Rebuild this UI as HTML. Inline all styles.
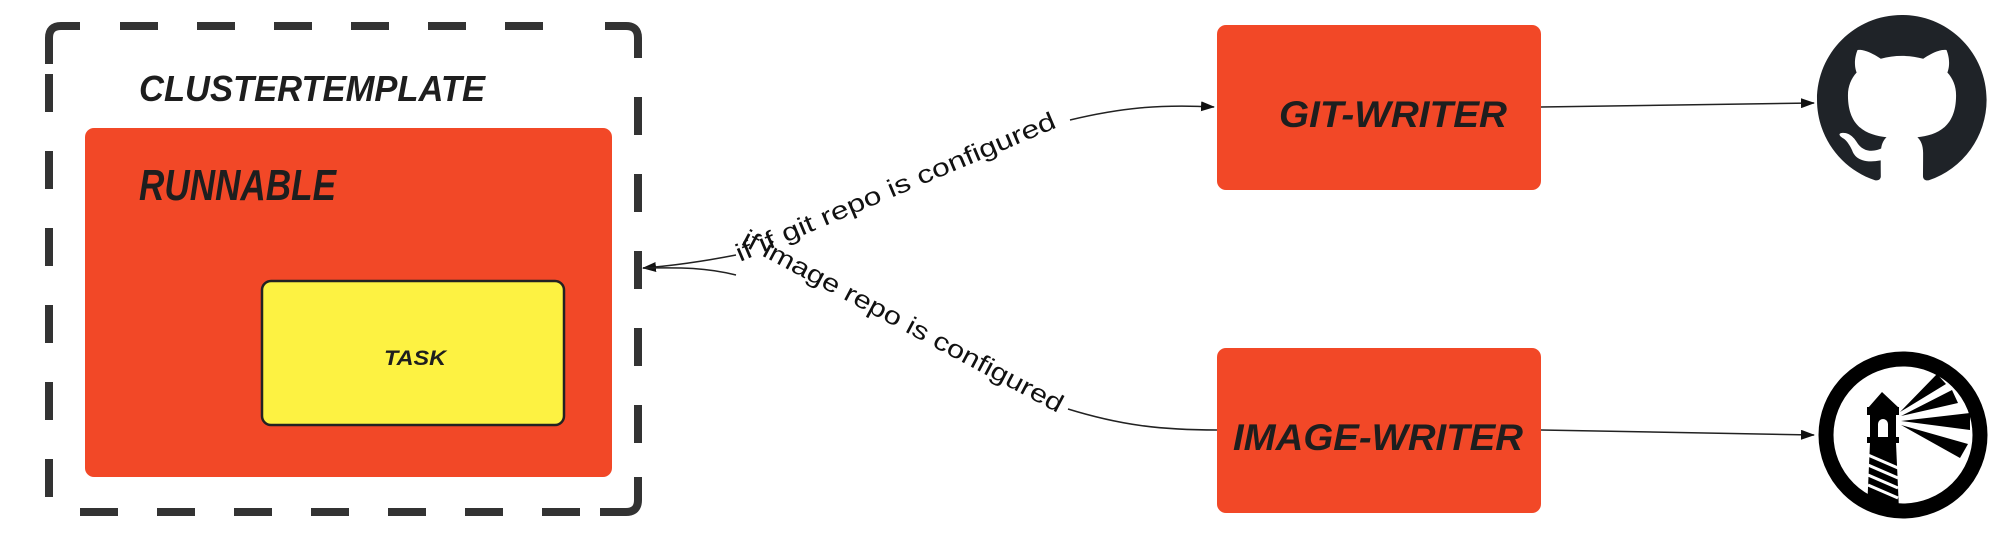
<!DOCTYPE html>
<html><head><meta charset="utf-8"><style>
html,body{margin:0;padding:0;background:#fff;width:1999px;height:541px;overflow:hidden}
svg{display:block}
.hand{font-family:"Liberation Sans",sans-serif;font-weight:bold;font-style:italic;fill:#1e1e1e}
.lbl{font-family:"Liberation Sans",sans-serif;font-size:25px;fill:#111}
</style></head><body>
<svg width="1999" height="541" viewBox="0 0 1999 541" xmlns="http://www.w3.org/2000/svg">
<defs>
<marker id="ah" markerWidth="14" markerHeight="10" refX="13" refY="5" orient="auto" markerUnits="userSpaceOnUse">
<path d="M0,0 L14,5 L0,10 z" fill="#111"/></marker>
</defs>
<!-- dashed container -->
<path d="M49,64 L49,38 Q49,26 61,26 L80,26" fill="none" stroke="#333" stroke-width="8"/>
<path d="M605,26 L626,26 Q638,26 638,38 L638,58" fill="none" stroke="#333" stroke-width="8"/>
<path d="M638,477 L638,500 Q638,512 626,512 L600,512" fill="none" stroke="#333" stroke-width="8"/>
<g stroke="#333" stroke-width="8">
<path d="M120,26 h38 M197,26 h38 M274,26 h38 M351,26 h38 M428,26 h38 M505,26 h38"/>
<path d="M80,512 h38 M157,512 h38 M234,512 h38 M311,512 h38 M388,512 h38 M465,512 h38 M542,512 h38"/>
<path d="M49,74 v38 M49,151 v38 M49,228 v38 M49,305 v38 M49,382 v38 M49,459 v38"/>
<path d="M638,97 v38 M638,174 v38 M638,251 v38 M638,328 v38 M638,405 v38"/>
</g>
<text class="hand" x="139" y="101" font-size="36" textLength="346" lengthAdjust="spacingAndGlyphs">CLUSTERTEMPLATE</text>
<!-- runnable -->
<rect x="85" y="128" width="527" height="349" rx="9" fill="#f24827"/>
<text class="hand" x="139" y="200" font-size="44" textLength="197" lengthAdjust="spacingAndGlyphs">RUNNABLE</text>
<!-- task -->
<rect x="262" y="281" width="302" height="144" rx="9" fill="#fdf242" stroke="#222" stroke-width="2.5"/>
<text class="hand" x="384" y="365" font-size="21" textLength="62" lengthAdjust="spacingAndGlyphs">TASK</text>
<!-- writers -->
<rect x="1217" y="25" width="324" height="165" rx="9" fill="#f24827"/>
<text class="hand" x="1279" y="127" font-size="37" textLength="228" lengthAdjust="spacingAndGlyphs">GIT-WRITER</text>
<rect x="1217" y="348" width="324" height="165" rx="9" fill="#f24827"/>
<text class="hand" x="1233" y="450" font-size="37" textLength="290" lengthAdjust="spacingAndGlyphs">IMAGE-WRITER</text>
<!-- connectors -->
<path d="M736,255 C700,262 670,266 643,268" fill="none" stroke="#222" stroke-width="1.5" marker-end="url(#ah)"/>
<path d="M1070,120 C1120,108 1160,104 1214,107" fill="none" stroke="#222" stroke-width="1.5" marker-end="url(#ah)"/>
<path d="M736,275 C700,266 670,268 643,268" fill="none" stroke="#222" stroke-width="1.5"/>
<path d="M1068,409 C1120,425 1160,430 1217,430" fill="none" stroke="#222" stroke-width="1.5"/>
<text class="lbl" transform="translate(740,262) rotate(-23)" textLength="345" lengthAdjust="spacingAndGlyphs">if if git repo is configured</text>
<text class="lbl" transform="translate(740,244) rotate(28)" textLength="360" lengthAdjust="spacingAndGlyphs">if image repo is configured</text>
<path d="M1541,107 L1814,103" fill="none" stroke="#222" stroke-width="1.5" marker-end="url(#ah)"/>
<path d="M1541,430 L1814,435" fill="none" stroke="#222" stroke-width="1.5" marker-end="url(#ah)"/>
<!-- github -->
<g transform="translate(1817,15) scale(10.6)">
<path fill="#1f2328" d="M8 0C3.58 0 0 3.58 0 8c0 3.54 2.29 6.53 5.47 7.59.4.07.55-.17.55-.38 0-.19-.01-.82-.01-1.49-2.01.37-2.53-.49-2.690-.94-.09-.23-.48-.94-.82-1.13-.28-.15-.68-.52-.01-.53.63-.01 1.08.58 1.23.82.72 1.21 1.87.87 2.33.66.07-.52.28-.87.51-1.07-1.78-.2-3.64-.89-3.64-3.95 0-.87.31-1.59.82-2.15-.08-.2-.36-1.02.08-2.12 0 0 .67-.21 2.2.82.64-.18 1.32-.27 2-.27.68 0 1.36.09 2 .27 1.53-1.04 2.2-.82 2.2-.82.44 1.1.16 1.92.08 2.12.51.56.82 1.27.82 2.15 0 3.07-1.87 3.75-3.65 3.95.29.25.54.73.54 1.48 0 1.07-.01 1.93-.01 2.2 0 .21.15.46.55.38A8.013 8.013 0 0016 8c0-4.42-3.58-8-8-8z"/>
</g>
<!-- lighthouse -->
<ellipse cx="1903" cy="435" rx="77" ry="76" fill="#fff" stroke="#000" stroke-width="15"/>
<g fill="#000">
<polygon points="1882,392 1868,408 1899,408"/>
<rect x="1867" y="407" width="32" height="8"/>
<path d="M1870,415 h26 v23 h-26z M1878,424 a5,5 0 0 1 10,0 v14 h-10z" fill-rule="evenodd"/>
<rect x="1867" y="437" width="32" height="6"/>
<polygon points="1870,443 1896,443 1899,510 1867,510"/>
<polygon points="1900,412 1937,374 1946,384"/>
<polygon points="1901,416 1952,390 1958,403"/>
<polygon points="1901,421 1970,413 1970,430"/>
<polygon points="1901,425 1968,444 1960,458"/>
</g>
<g stroke="#fff" stroke-width="3">
<line x1="1868" y1="455" x2="1898" y2="468"/>
<line x1="1868" y1="465" x2="1898" y2="478"/>
<line x1="1868" y1="475" x2="1898" y2="488"/>
<line x1="1868" y1="485" x2="1898" y2="498"/>
</g>
</svg>
</body></html>
